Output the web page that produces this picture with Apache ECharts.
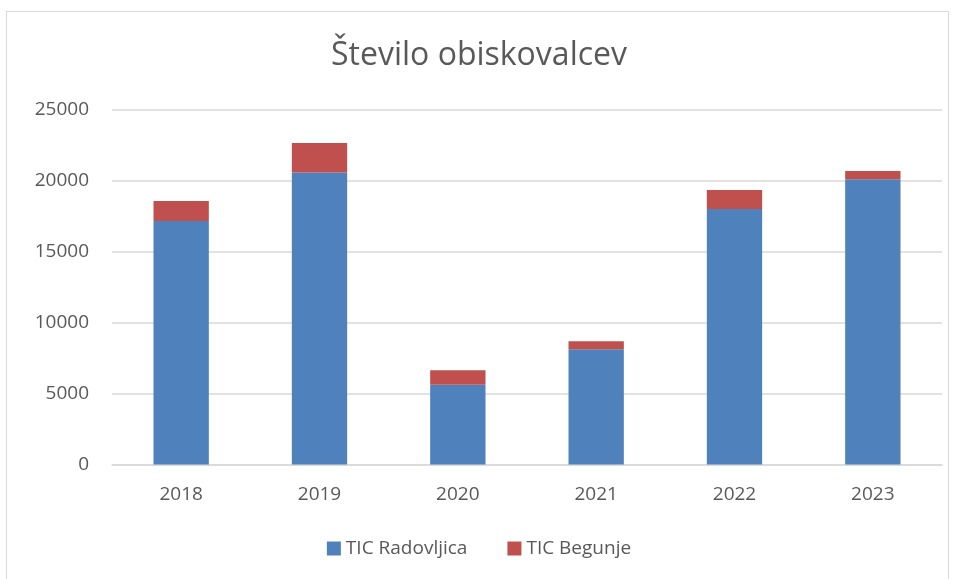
<!DOCTYPE html>
<html>
<head>
<meta charset="utf-8">
<script src="https://cdn.jsdelivr.net/npm/echarts@6/dist/echarts.min.js"></script>
<style>
  html, body { margin: 0; padding: 0; background: #fff; }
  #frame { position: absolute; left: 6px; top: 11px; width: 943px; height: 580px; border: 1px solid #d9d9d9; box-sizing: border-box; }
  #chart { position: absolute; left: 0; top: 0; width: 958px; height: 579px; }
</style>
</head>
<body>
<div id="frame"></div>
<div id="chart"></div>
<script>
const years = ['2018', '2019', '2020', '2021', '2022', '2023'];
const radovljica = [17170, 20600, 5630, 8120, 18020, 20110];
const begunje = [1410, 2070, 1010, 565, 1340, 585];
const seriesNames = ['TIC Radovljica', 'TIC Begunje'];

const chart = echarts.init(document.getElementById('chart'));
const font = '"Open Sans", "Liberation Sans", sans-serif';

const option = {
  backgroundColor: 'transparent',
  title: {
    text: 'Število obiskovalcev',
    left: 'center',
    top: 35,
    textStyle: { fontFamily: font, fontSize: 32, fontWeight: 'normal', color: '#595959' }
  },
  legend: {
    data: seriesNames,
    bottom: 16,
    left: 'center',
    itemWidth: 14,
    itemHeight: 14,
    itemGap: 40,
    icon: 'rect',
    textStyle: { fontFamily: font, fontSize: 19, color: '#595959' }
  },
  grid: { left: 112, right: 16, top: 110, bottom: 114.5 },
  xAxis: {
    type: 'category',
    data: years,
    axisLine: { lineStyle: { color: '#d9d9d9', width: 1.5 } },
    axisTick: { show: false },
    axisLabel: { fontFamily: font, fontSize: 19, color: '#595959', margin: 21 }
  },
  yAxis: {
    type: 'value',
    min: 0,
    max: 25000,
    interval: 5000,
    axisLine: { show: false },
    axisTick: { show: false },
    splitLine: { lineStyle: { color: '#d9d9d9', width: 1.5 } },
    axisLabel: { fontFamily: font, fontSize: 19, color: '#595959', margin: 23, formatter: v => String(v) }
  },
  series: [
    {
      name: seriesNames[0],
      type: 'bar',
      stack: 'total',
      data: radovljica,
      barWidth: '40%',
      itemStyle: { color: '#4f81bd' }
    },
    {
      name: seriesNames[1],
      type: 'bar',
      stack: 'total',
      data: begunje,
      barWidth: '40%',
      itemStyle: { color: '#c0504d' }
    }
  ]
};

chart.setOption(option);
</script>
</body>
</html>
